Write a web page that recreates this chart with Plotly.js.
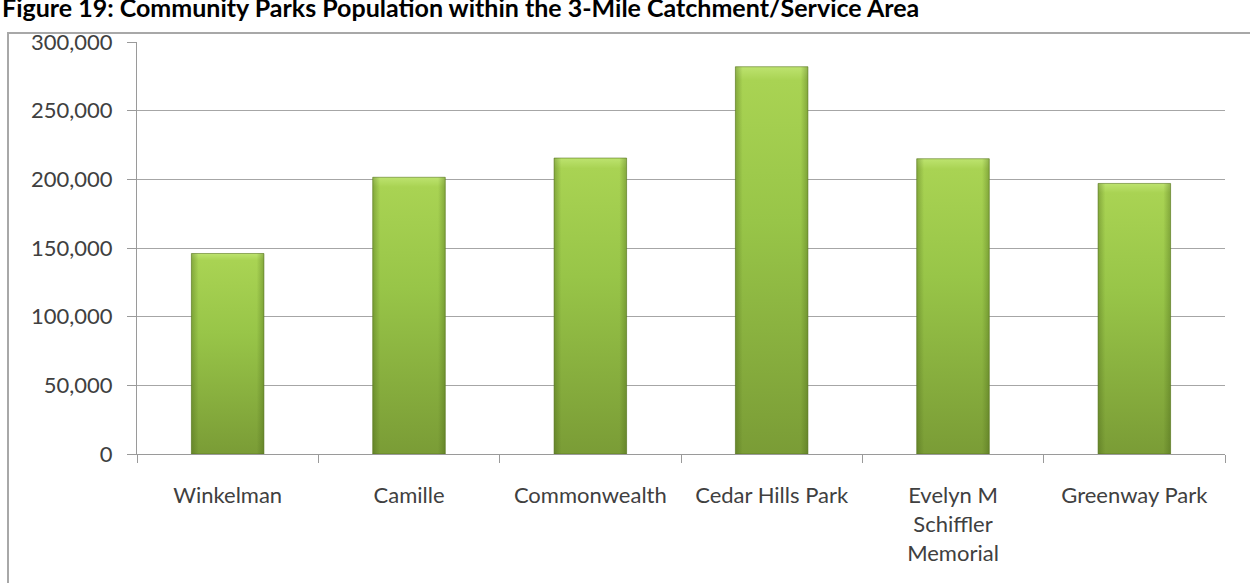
<!DOCTYPE html>
<html>
<head>
<meta charset="utf-8">
<script src="https://cdn.plot.ly/plotly-3.0.1.min.js"></script>
<style>
  html, body { margin: 0; padding: 0; background: #ffffff; overflow: hidden; }
  #frame { position: absolute; left: 7px; top: 32px; width: 1400px; height: 800px;
           border-left: 2px solid #a8a8a8; border-top: 2px solid #a8a8a8; box-sizing: border-box; }
  #chart { position: absolute; left: 0; top: 0; width: 1250px; height: 583px; }
</style>
</head>
<body>
<div id="frame"></div>
<div id="chart"></div>
<script>
const titleText = "Figure 19: Community Parks Population within the 3-Mile Catchment/Service Area";
const categories = ["Winkelman", "Camille", "Commonwealth", "Cedar Hills Park", "Evelyn M<br>Schiffler<br>Memorial", "Greenway Park"];
const population = [146000, 201500, 215500, 282000, 215000, 197000];
const yTickValues = [0, 50000, 100000, 150000, 200000, 250000, 300000];
const yTickLabels = ["0", "50,000", "100,000", "150,000", "200,000", "250,000", "300,000"];

const FONT = "Lato, 'Liberation Sans', sans-serif";

const trace = {
  type: "bar",
  x: categories,
  y: population,
  marker: { color: "#8fba45", line: { color: "rgba(90,120,30,0.6)", width: 1 } },
  hoverinfo: "none"
};

const plotTop = 42, plotBottom = 454, plotLeft = 137, plotRight = 1225;
const plotH = plotBottom - plotTop, plotW = plotRight - plotLeft;

const layout = {
  width: 1250, height: 583,
  paper_bgcolor: "rgba(0,0,0,0)",
  plot_bgcolor: "rgba(0,0,0,0)",
  margin: { l: plotLeft, r: 1250 - plotRight, t: plotTop, b: 583 - plotBottom },
  bargap: 0.6,
  showlegend: false,
  annotations: [{
    text: "<b>" + titleText + "</b>",
    font: { family: FONT, size: 25, color: "#000000" },
    xref: "paper", x: -plotLeft / plotW, xanchor: "left",
    yref: "paper", y: (plotBottom - 7) / plotH, yanchor: "middle",
    showarrow: false
  }],
  xaxis: {
    type: "category",
    showgrid: false,
    showline: true, linecolor: "#9a9a9a", linewidth: 1,
    ticks: "outside", tickson: "boundaries", ticklen: 8, tickcolor: "#9a9a9a",
    ticklabelstandoff: 22,
    tickfont: { family: FONT, size: 22, color: "#404040" },
    fixedrange: true
  },
  yaxis: {
    range: [0, 300000],
    tickvals: yTickValues,
    ticktext: yTickLabels,
    showgrid: true, gridcolor: "#a6a6a6", gridwidth: 1,
    zeroline: false,
    showline: true, linecolor: "#9a9a9a", linewidth: 1,
    ticks: "outside", ticklen: 9, tickcolor: "#9a9a9a",
    ticklabelstandoff: 10,
    tickfont: { family: FONT, size: 22, color: "#404040" },
    fixedrange: true
  }
};

Plotly.newPlot("chart", [trace], layout, { staticPlot: true, displayModeBar: false }).then(gd => {
  const svg = gd.querySelector(".main-svg");
  const NS = "http://www.w3.org/2000/svg";
  let defs = svg.querySelector("defs");
  if (!defs) { defs = document.createElementNS(NS, "defs"); svg.insertBefore(defs, svg.firstChild); }
  function grad(id, x2, y2, stops) {
    const g = document.createElementNS(NS, "linearGradient");
    g.setAttribute("id", id);
    g.setAttribute("x1", "0"); g.setAttribute("y1", "0");
    g.setAttribute("x2", x2); g.setAttribute("y2", y2);
    stops.forEach(s => {
      const st = document.createElementNS(NS, "stop");
      st.setAttribute("offset", s[0]);
      st.setAttribute("stop-color", s[1]);
      st.setAttribute("stop-opacity", s[2]);
      g.appendChild(st);
    });
    defs.appendChild(g);
  }
  grad("barV", "0", "1", [["0", "#bde36f", 1], ["0.035", "#a9d353", 1], ["0.4", "#98c548", 1], ["1", "#7a9c36", 1]]);
  grad("barH", "1", "0", [["0", "#3f5a12", 0.35], ["0.1", "#3f5a12", 0.0], ["0.9", "#3f5a12", 0.0], ["1", "#3f5a12", 0.35]]);
  gd.querySelectorAll(".bars .point path").forEach(p => {
    p.style.fill = "url(#barV)";
    const c = p.cloneNode(true);
    c.style.fill = "url(#barH)";
    c.style.stroke = "none";
    p.parentNode.appendChild(c);
  });
});
</script>
</body>
</html>
